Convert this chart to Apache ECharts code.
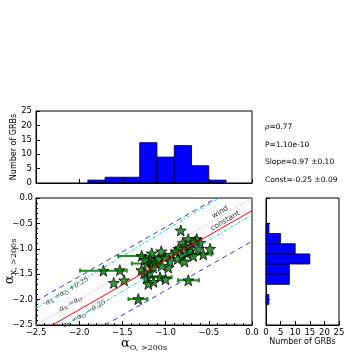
<!DOCTYPE html>
<html>
<head>
<meta charset="utf-8">
<script src="https://cdn.jsdelivr.net/npm/echarts@6/dist/echarts.min.js"></script>
<style>
  html, body { margin: 0; padding: 0; background: #fff; }
  #chart { width: 360px; height: 361px; }
</style>
</head>
<body>
<div id="chart"></div>
<script>
// scatter points (alpha_O, alpha_X)
const alphaO = [-1.72, -1.60, -1.53, -1.48, -1.316,
  -1.277, -1.22, -1.18, -1.18, -1.22, -1.14, -1.14, -1.20, -1.25, -1.15, -1.12, -1.28, -1.16, -1.24,
  -1.085, -1.045, -1.065, -1.007, -0.969, -0.93, -1.05, -0.95, -1.0,
  -0.825, -0.853, -0.775, -0.737, -0.81, -0.88, -0.756, -0.737, -0.718, -0.80, -0.86, -0.72, -0.78,
  -0.64, -0.621, -0.564, -0.66, -0.60, -0.68, -0.486]
const alphaX = [-1.43, -1.67, -1.42, -1.62, -1.99,
  -1.14, -1.29, -1.20, -1.46, -1.58, -1.37, -1.65, -1.69, -1.48, -1.25, -1.28, -1.42, -1.09, -1.22,
  -1.20, -1.33, -1.56, -1.17, -1.37, -1.12, -1.05, -1.25, -1.60,
  -0.64, -1.0, -0.94, -0.81, -1.15, -1.05, -1.09, -1.62, -0.97, -0.88, -1.20, -1.05, -1.25,
  -0.81, -1.0, -1.11, -0.86, -0.88, -1.14, -1.0]

// horizontal error bars
const errY = [-1.43, -1.14, -1.29, -1.99, -1.11, -1.62, -1.56]
const errLo = [-1.99, -1.55, -1.39, -1.43, -0.795, -0.856, -1.20]
const errHi = [-1.45, -1.00, -1.06, -1.21, -0.467, -0.614, -0.93]

// histograms
const xBinEdges = [-1.9, -1.7, -1.5, -1.3, -1.1, -0.9, -0.7, -0.5, -0.3]
const xCounts = [1, 2, 2, 14, 9, 13, 6, 1]
const yBinEdges = [-2.1, -1.9, -1.7, -1.5, -1.3, -1.1, -0.9, -0.7, -0.5]
const yCounts = [1, 0, 8, 8, 15, 10, 5, 1]

// reference lines (end points)
const blueUpper = [[-2.5, -2.03], [-0.41, 0]]
const blueLower = [[-1.70, -2.5], [0, -0.85]]
const cyanUpper = [[-2.5, -2.17], [-0.38, 0]]
const cyanLower = [[-2.16, -2.5], [0, -0.33]]
const windLine = [[-2.5, -2.5], [0, 0]]
const fitLine = [[-2.31, -2.5], [0, -0.25]]

const statTexts = ['{r|ρ}=0.77', 'P=1.10e-10', 'Slope=0.97 ±0.10', 'Const=-0.25 ±0.09']

const minus = v => String(v.toFixed(1)).replace('-', '\u2212')
const tickFont = { fontFamily: 'DejaVu Sans', fontSize: 8.5, color: '#000' }

const chart = echarts.init(document.getElementById('chart'))

function frameAxis(extra) {
  return Object.assign({
    axisLine: { show: true, onZero: false, lineStyle: { color: '#000', width: 1 } },
    axisTick: { show: true, inside: true, length: 4, lineStyle: { color: '#000' } },
    splitLine: { show: false },
    nameMoveOverlap: false,
    axisLabel: Object.assign({ margin: 4 }, tickFont)
  }, extra)
}

const histBars = {
  stroke: '#000', lineWidth: 0.8, fill: '#0000ff'
}
const gridBase = { show: true, borderColor: '#000', borderWidth: 1, containLabel: false, outerBoundsMode: 'none' }

const option = {
  animation: false,
  grid: [
    Object.assign({ left: 36, top: 111, width: 216, height: 72 }, gridBase),
    Object.assign({ left: 36, top: 198, width: 216, height: 127 }, gridBase),
    Object.assign({ left: 266, top: 198, width: 73, height: 127 }, gridBase)
  ],
  xAxis: [
    frameAxis({ gridIndex: 0, type: 'value', min: -2.5, max: 0, interval: 0.5, axisLabel: { show: false } }),
    frameAxis({
      gridIndex: 1, type: 'value', min: -2.5, max: 0, interval: 0.5,
      minorTick: { show: true, splitNumber: 5, length: 2, lineStyle: { color: '#000' } },
      axisLabel: Object.assign({ margin: 3, formatter: minus }, tickFont),
      name: '{a|α}{s|O, >200s}', nameLocation: 'middle', nameGap: 11,
      nameTextStyle: {
        rich: {
          a: { fontFamily: 'DejaVu Serif', fontSize: 13, color: '#000' },
          s: { fontFamily: 'DejaVu Serif', fontSize: 8, color: '#000', padding: [8, 0, 0, 0] }
        }
      }
    }),
    frameAxis({
      gridIndex: 2, type: 'value', min: 0, max: 25, interval: 5,
      axisLabel: Object.assign({ margin: 3 }, tickFont),
      name: 'Number of GRBs', nameLocation: 'middle', nameGap: 13,
      nameTextStyle: { fontFamily: 'DejaVu Sans', fontSize: 8, color: '#000' }
    })
  ],
  yAxis: [
    frameAxis({
      gridIndex: 0, type: 'value', min: 0, max: 25, interval: 5,
      name: 'Number of GRBs', nameLocation: 'middle', nameGap: 18,
      nameTextStyle: { fontFamily: 'DejaVu Sans', fontSize: 8, color: '#000' }
    }),
    frameAxis({
      gridIndex: 1, type: 'value', min: -2.5, max: 0, interval: 0.5,
      minorTick: { show: true, splitNumber: 5, length: 2, lineStyle: { color: '#000' } },
      axisLabel: Object.assign({ margin: 3, formatter: minus }, tickFont),
      name: '{a|α}{s|X, >200s}', nameLocation: 'middle', nameGap: 18,
      nameTextStyle: {
        rich: {
          a: { fontFamily: 'DejaVu Serif', fontSize: 13, color: '#000' },
          s: { fontFamily: 'DejaVu Serif', fontSize: 8, color: '#000', padding: [8, 0, 0, 0] }
        }
      }
    }),
    frameAxis({ gridIndex: 2, type: 'value', min: -2.5, max: 0, interval: 0.5, axisLabel: { show: false } })
  ],
  series: [
    {
      // top histogram of alpha_O
      type: 'custom', xAxisIndex: 0, yAxisIndex: 0,
      data: xCounts.map((c, i) => [xBinEdges[i], xBinEdges[i + 1], c]),
      renderItem: (params, api) => {
        const p0 = api.coord([api.value(0), 0])
        const p1 = api.coord([api.value(1), api.value(2)])
        return { type: 'rect', shape: { x: p0[0], y: p1[1], width: p1[0] - p0[0], height: p0[1] - p1[1] }, style: histBars }
      }
    },
    {
      // right histogram of alpha_X
      type: 'custom', xAxisIndex: 2, yAxisIndex: 2,
      data: yCounts.map((c, i) => [yBinEdges[i], yBinEdges[i + 1], c]),
      renderItem: (params, api) => {
        if (!api.value(2)) return null
        const p0 = api.coord([0, api.value(0)])
        const p1 = api.coord([api.value(2), api.value(1)])
        return { type: 'rect', shape: { x: p0[0], y: p1[1], width: p1[0] - p0[0], height: p0[1] - p1[1] }, style: histBars }
      }
    },
    { type: 'line', xAxisIndex: 1, yAxisIndex: 1, data: blueUpper, symbol: 'none', lineStyle: { color: '#3333ff', width: 1, type: [5, 4] } },
    { type: 'line', xAxisIndex: 1, yAxisIndex: 1, data: blueLower, symbol: 'none', lineStyle: { color: '#3333ff', width: 1, type: [5, 4] } },
    { type: 'line', xAxisIndex: 1, yAxisIndex: 1, data: cyanUpper, symbol: 'none', lineStyle: { color: '#00cccc', width: 1, type: [3, 2, 1, 2] } },
    { type: 'line', xAxisIndex: 1, yAxisIndex: 1, data: cyanLower, symbol: 'none', lineStyle: { color: '#00cccc', width: 1, type: [3, 2, 1, 2] } },
    { type: 'line', xAxisIndex: 1, yAxisIndex: 1, data: windLine, symbol: 'none', lineStyle: { color: '#ee82ee', width: 1, type: [1, 2] } },
    { type: 'line', xAxisIndex: 1, yAxisIndex: 1, data: fitLine, symbol: 'none', lineStyle: { color: '#ff0000', width: 1 } },
    {
      // error bars
      type: 'custom', xAxisIndex: 1, yAxisIndex: 1,
      data: errY.map((y, i) => [errLo[i], errHi[i], y]),
      renderItem: (params, api) => {
        const a = api.coord([api.value(0), api.value(2)])
        const b = api.coord([api.value(1), api.value(2)])
        const st = { stroke: '#1a8c1a', lineWidth: 2 }
        return {
          type: 'group', children: [
            { type: 'line', shape: { x1: a[0], y1: a[1], x2: b[0], y2: b[1] }, style: st },
            { type: 'line', shape: { x1: a[0], y1: a[1] - 2, x2: a[0], y2: a[1] + 2 }, style: st },
            { type: 'line', shape: { x1: b[0], y1: b[1] - 2, x2: b[0], y2: b[1] + 2 }, style: st }
          ]
        }
      }
    },
    {
      type: 'scatter', xAxisIndex: 1, yAxisIndex: 1,
      data: alphaO.map((x, i) => [x, alphaX[i]]),
      symbol: 'path://M0,-10 L2.35,-3.24 L9.51,-3.09 L3.8,1.24 L5.88,8.09 L0,4 L-5.88,8.09 L-3.8,1.24 L-9.51,-3.09 L-2.35,-3.24 Z',
      symbolSize: 11,
      itemStyle: { color: '#008000', borderColor: '#000', borderWidth: 1 }
    }
  ]
}

chart.setOption(option)

// stats texts and rotated labels along the reference lines
const lineLabels = [
  { text: '{a|α}{s|X}{a| =α}{s|O}{a| +0.25}', at: [-2.14, -1.83] },
  { text: '{a|α}{s|X}{a| =α}{s|O}', at: [-2.10, -2.08] },
  { text: '{a|α}{s|X}{a| =α}{s|O}{a| −0.25}', at: [-1.94, -2.28] },
  { text: 'wind', at: [-0.37, -0.28] },
  { text: 'constant', at: [-0.31, -0.45] }
]
const angle = Math.atan(127 / 2.5 / (216 / 2.5))
const statGraphics = statTexts.map((t, i) => ({
  type: 'text', id: 'stat' + i, left: 265, top: 123 + i * 17.7,
  style: {
    text: t, fontFamily: 'DejaVu Sans', fontSize: 7.5, fill: '#000',
    rich: { r: { fontFamily: 'DejaVu Serif', fontStyle: 'italic', fontSize: 7.5 } }
  }
}))
const labelGraphics = lineLabels.map((l, i) => {
  const p = chart.convertToPixel({ gridIndex: 1 }, l.at)
  return {
    type: 'text', id: 'lbl' + i, x: p[0], y: p[1], rotation: angle, z: 20,
    style: {
      text: l.text, align: 'center', verticalAlign: 'middle',
      fontFamily: 'DejaVu Sans', fontSize: 7.5, fill: '#333',
      rich: {
        a: { fontFamily: 'DejaVu Serif', fontStyle: 'italic', fontSize: 7, fill: '#333' },
        s: { fontFamily: 'DejaVu Serif', fontSize: 5, fill: '#333', padding: [4, 0, 0, 0] }
      }
    }
  }
})
chart.setOption({ graphic: statGraphics.concat(labelGraphics) })
</script>
</body>
</html>
